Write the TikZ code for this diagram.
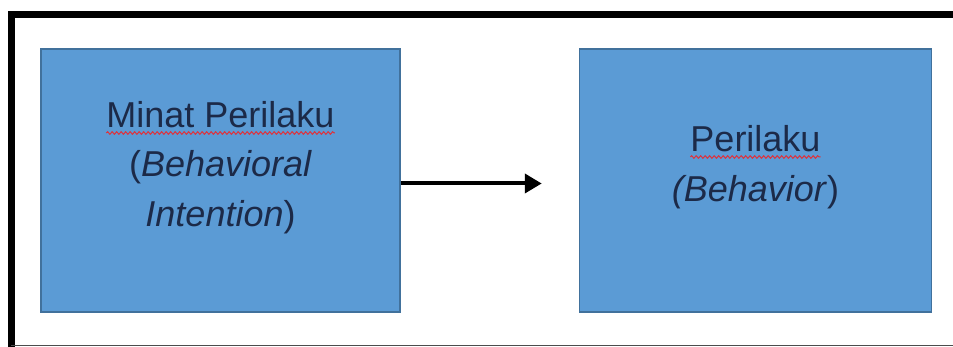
\documentclass[tikz,border=0pt]{standalone}
\usepackage{fontspec}
\setmainfont{Liberation Sans}
\usetikzlibrary{positioning,arrows.meta,decorations.pathmorphing}

\definecolor{boxblue}{HTML}{5B9BD5}
\definecolor{boxedge}{HTML}{41719C}
\definecolor{txtnavy}{HTML}{1C2A48}
\definecolor{spellred}{HTML}{E0303A}

\newcommand{\lblfont}{\fontsize{36}{50}\selectfont}
\newlength{\wordw}

\tikzset{
  var/.style={draw=boxedge, line width=1.5pt, fill=boxblue, minimum height=263pt, inner sep=0pt},
  lbl/.style={text=txtnavy, inner sep=0pt, anchor=base, font=\lblfont},
  spell/.style={draw=spellred, line width=1pt, decorate, decoration={snake, amplitude=1.3pt, segment length=4.5pt}},
  flow/.style={line width=4pt, -{Triangle[length=17pt,width=19pt]}},
}

\begin{document}
\begin{tikzpicture}[x=1pt,y=1pt]
        \useasboundingbox (0,0) rectangle (953,347);
        
        % frame
        \draw[line width=7pt] (11,0) -- (11,332.5) -- (953,332.5);
        \draw[line width=1.5pt, black!70] (11,1.5) -- (953,1.5);
        
        \node[var, minimum width=359pt]                     (minat) at (220.5,166.5) {};
        \node[var, minimum width=352pt, right=178pt of minat] (perilaku) {};
        
        % texts, one node per line
        \node[lbl] (minat-1) at ([yshift=52.5pt]minat.center) {Minat Perilaku};
        \node[lbl] (minat-2) at ([yshift=3.5pt]minat.center) {(\textit{Behavioral}};
        \node[lbl] (minat-3) at ([yshift=-46.5pt]minat.center) {\textit{Intention})};
        \node[lbl] (perilaku-1) at ([yshift=28.5pt]perilaku.center) {Perilaku};
        \node[lbl] (perilaku-2) at ([yshift=-21.5pt]perilaku.center) {\textit{(Behavior})};
        
        % spelling marks
        \settowidth{\wordw}{\lblfont Minat}
        \draw[spell] ([yshift=-5pt]minat-1.base west) -- ++(\wordw,0);
        \settowidth{\wordw}{\lblfont Minat\ }
        \draw[spell] ([yshift=-5pt, xshift=\wordw]minat-1.base west) -- ([yshift=-5pt]minat-1.base east);
        \draw[spell] ([yshift=-5pt]perilaku-1.base west) -- ([yshift=-5pt]perilaku-1.base east);
        
        \coordinate[left=37pt of perilaku, yshift=-3pt] (tip);
        \draw[flow] ([yshift=-3pt]minat.east) -- (tip); %
        
\end{tikzpicture}
\end{document}
